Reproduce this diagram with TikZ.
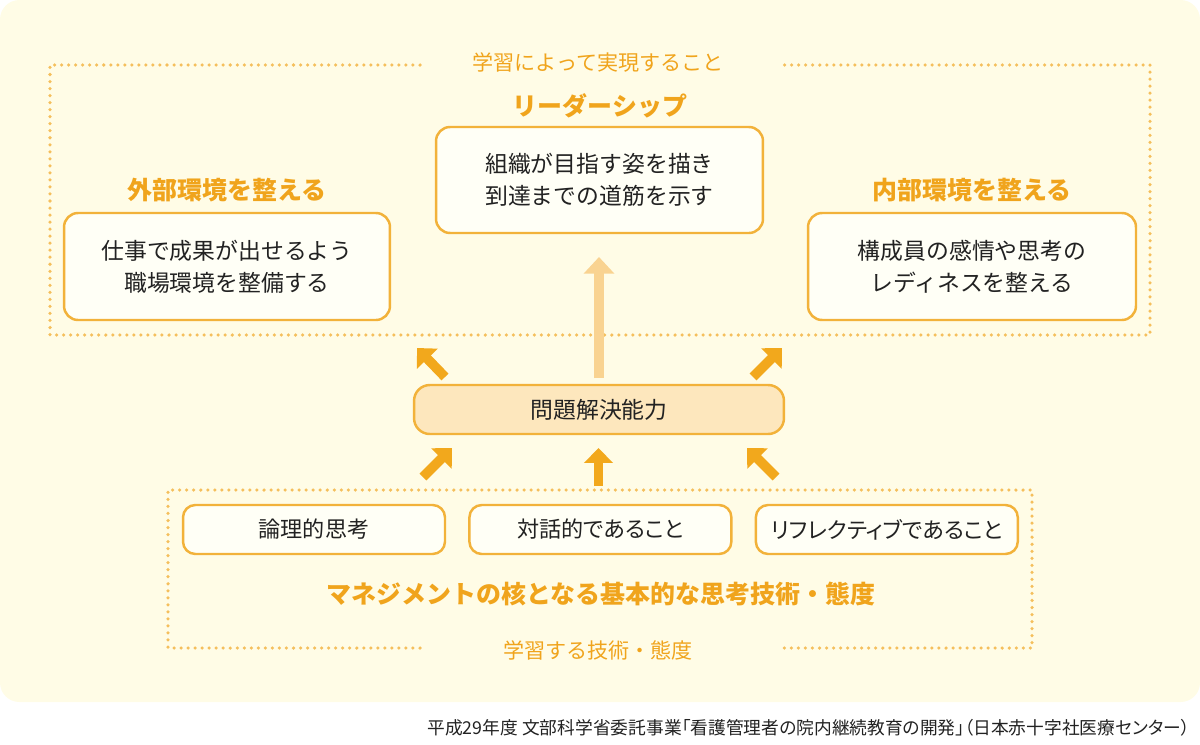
\documentclass[tikz,border=0pt]{standalone}
\usepackage{fontspec}
\newfontfamily\jp{Noto Sans CJK JP}
\newfontfamily\jpp[RawFeature=+palt]{Noto Sans CJK JP}
\usetikzlibrary{arrows.meta,positioning}
\definecolor{bg}{HTML}{FFFCE6}
\definecolor{boxline}{HTML}{F2B23A}
\definecolor{boxfill}{HTML}{FFFFF6}
\definecolor{solfill}{HTML}{FDE7BD}
\definecolor{hdr}{HTML}{F0A41C}
\definecolor{arr}{HTML}{F2A81C}
\definecolor{light}{HTML}{F9D391}
\definecolor{dotc}{HTML}{F5BF5C}
\definecolor{ink}{HTML}{222222}

\begin{document}
\begin{tikzpicture}[x=0.02cm,y=-0.02cm,
  box/.style={draw=boxline,line width=1.4pt,fill=boxfill,rounded corners=8pt,align=center,text=ink,inner sep=0pt,font=\jp\fontsize{13}{18}\selectfont},
  smallbox/.style={box,rounded corners=7pt,minimum width=5.24cm,minimum height=0.98cm,font=\jpp\fontsize{12.6}{16}\selectfont},
  title/.style={text=hdr,font=\jp\bfseries\fontsize{14.2}{16}\selectfont},
  sub/.style={text=hdr,font=\jp\fontsize{12}{14}\selectfont},
  dots/.style={draw=dotc,line width=2pt,line cap=round,dash pattern=on 0pt off 4pt},
  fat/.style={-{Triangle[length=8.5pt,width=16pt]},line width=5.5pt,draw=arr}]
  \useasboundingbox (0,0) rectangle (1200,744);
  \fill[bg,rounded corners=11pt] (0,0) rectangle (1200,702);

  % upper area
  \draw[dots] (420,65) -| (50,335) -| (1150,65) -- (780,65);
  \node[sub] (learn) at (598,62) {学習によって実現すること};
  \node[title] (lead) at (600,106) {リーダーシップ};
  \node[box,minimum width=6.54cm,minimum height=2.12cm] (goal) at (599.5,180) {組織が目指す姿を描き\\到達までの道筋を示す};
  \node[title] (ext) at (227,190) {外部環境を整える};
  \node[box,minimum width=6.52cm,minimum height=2.14cm] (extbox) at (227,266.5) {仕事で成果が出せるよう\\職場環境を整備する};
  \node[title] (int) at (972,190) {内部環境を整える};
  \node[box,minimum width=6.56cm,minimum height=2.14cm] (intbox) at (972,266.5) {構成員の感情や思考の\\レディネスを整える};

  % middle
  \node[box,fill=solfill,rounded corners=9pt,minimum width=7.4cm,minimum height=0.98cm] (solve) at (599,409.5) {問題解決能力};
  \path (599,378) coordinate (up0) (599,257) coordinate (up1);
  \draw[fat,draw=light,line width=6pt,-{Triangle[length=9.5pt,width=17pt]}] (up0) -- (up1);
  \foreach \x/\y/\dx/\dy [count=\i] in {445/377/-28/-29, 753/377/29/-29, 423/477/29/-29, 776/477/-29/-29, 598.5/486/0/-38} {
    \path (\x,\y) coordinate (t\i) ++(\dx,\dy) coordinate (h\i);
    \draw[fat] (t\i) -- (h\i);
  }

  % lower area
  \draw[dots] (420,648) -| (168,490) -| (1032,648) -- (781,648);
  \node[smallbox] (logic) at (314,529.5) {論理的思考};
  \node[smallbox,right=0.44cm of logic] (talk) {対話的であること};
  \node[smallbox,right=0.44cm of talk] (refl) {リフレクティブであること};
  \node[title] (core) at (601,594) {マネジメントの核となる基本的な思考技術・態度};
  \node[sub] (skill) at (598,650) {学習する技術・態度};

  \node[anchor=east,text=ink,font=\jpp\fontsize{10.1}{12}\selectfont] (src) at (1196,728) {平成29年度 文部科学省委託事業「看護管理者の院内継続教育の開発」（日本赤十字社医療センター）};
\end{tikzpicture}
\end{document}
